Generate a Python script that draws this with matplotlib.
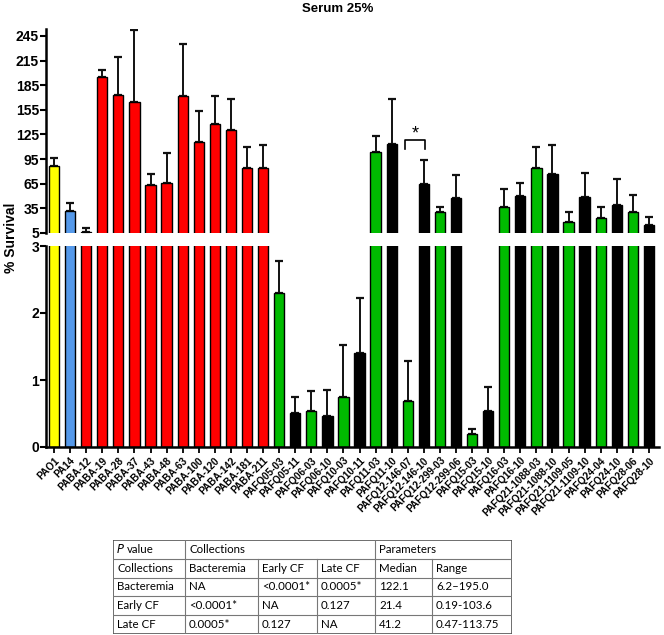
import numpy as np
import matplotlib
matplotlib.use('Agg')
import matplotlib.pyplot as plt

# strains, mean % survival and top of the error bar
strains = ['PAO1', 'PA14', 'PABA-12', 'PABA-19', 'PABA-28', 'PABA-37', 'PABA-43', 'PABA-48',
           'PABA-63', 'PABA-100', 'PABA-120', 'PABA-142', 'PABA-181', 'PABA-211',
           'PAFQ05-03', 'PAFQ05-11', 'PAFQ06-03', 'PAFQ06-10', 'PAFQ10-03', 'PAFQ10-11',
           'PAFQ11-03', 'PAFQ11-10', 'PAFQ12-146-07', 'PAFQ12-146-10', 'PAFQ12-299-03',
           'PAFQ12-299-06', 'PAFQ15-03', 'PAFQ15-10', 'PAFQ16-03', 'PAFQ16-10',
           'PAFQ21-1088-03', 'PAFQ21-1088-10', 'PAFQ21-1109-05', 'PAFQ21-1109-10',
           'PAFQ24-04', 'PAFQ24-10', 'PAFQ28-06', 'PAFQ28-10']
survival = [87, 31.4, 6.2, 195.0, 173.5, 164, 64, 65.5,
            171.5, 116, 137.4, 130.5, 84.5, 83.8,
            2.30, 0.51, 0.53, 0.47, 0.75, 1.40,
            103.6, 113.75, 0.68, 65, 31,
            47.6, 0.19, 0.54, 36.3, 50,
            83.8, 76.9, 18.8, 48.5,
            22.9, 39.5, 31, 14.7]
err_top = [96, 41, 11, 204, 219, 252, 77, 102,
           235, 153, 171.5, 168, 109.7, 111.8,
           2.77, 0.75, 0.83, 0.85, 1.52, 2.23,
           123, 168, 1.28, 94, 37,
           75.6, 0.27, 0.90, 58.6, 66.3,
           109.7, 112.6, 31, 77.7,
           37, 71, 51.7, 24.9]
group = ['ref', 'ref2'] + ['bact'] * 12 + \
        ['early', 'late', 'early', 'late', 'early', 'late', 'early', 'late',
         'early', 'late', 'early', 'late', 'early', 'late', 'early', 'late',
         'early', 'late', 'early', 'late', 'early', 'late', 'early', 'late']
group_colors = {'ref': '#ffff00', 'ref2': '#5599ea', 'bact': '#ff0000',
                'early': '#00bb00', 'late': '#000000'}

# table under the chart
tbl_header = ['Collections', 'Bacteremia', 'Early CF', 'Late CF', 'Median', 'Range']
tbl_rows = [['Bacteremia', 'NA', '<0.0001*', '0.0005*', '122.1', '6.2\u2013195.0'],
            ['Early CF', '<0.0001*', 'NA', '0.127', '21.4', '0.19-103.6'],
            ['Late CF', '0.0005*', '0.127', 'NA', '41.2', '0.47-113.75']]

plt.rcParams['font.family'] = ['Liberation Sans', 'DejaVu Sans']
plt.rcParams['font.weight'] = 'bold'

W, H = 664, 635
fig = plt.figure(figsize=(W / 100, H / 100), dpi=100)

ax_left, ax_w = 46 / W, 612.6 / W
ax_top = fig.add_axes([ax_left, 1 - 233 / H, ax_w, 203.6 / H])
ax_bot = fig.add_axes([ax_left, 1 - 447 / H, ax_w, 201 / H])

x = np.arange(len(strains))
colors = np.array([group_colors[g] for g in group])
vals = np.array(survival)
tops = np.array(err_top)

# upper panel: only the bars that reach above the break
hi = vals > 5
# lower panel: every bar, error bars only for the small ones
lo = vals <= 3
for ax, sel_bar, sel_err in ((ax_top, hi, hi), (ax_bot, np.ones_like(hi), lo)):
    ax.bar(x[sel_bar], vals[sel_bar], width=0.64, color=colors[sel_bar],
           edgecolor='black', linewidth=1.0, zorder=2)
    ax.errorbar(x[sel_err], vals[sel_err], yerr=[np.zeros(sel_err.sum()), (tops - vals)[sel_err]],
                fmt='none', ecolor='#111111', elinewidth=1.4,
                capsize=2.6, capthick=1.6, zorder=1)
    ax.set_xlim(-0.5, 37.6)
    for s in ('top', 'right'):
        ax.spines[s].set_visible(False)
    ax.spines['left'].set_linewidth(1.8)
    ax.tick_params(axis='y', length=4, width=1.5, labelsize=10, pad=1)

ax_top.set_ylim(5, 253)
ax_top.set_yticks(np.arange(5, 246, 30))
ax_top.spines['bottom'].set_visible(False)
ax_top.tick_params(axis='x', bottom=False, labelbottom=False)

ax_bot.set_ylim(0, 3)
ax_bot.set_yticks([0, 1, 2, 3])
ax_bot.spines['bottom'].set_linewidth(1.8)
ax_bot.set_xticks(x)
ax_bot.set_xticklabels(strains, rotation=45, ha='right', rotation_mode='anchor',
                       fontsize=7.2)
ax_bot.tick_params(axis='x', length=4, width=1.3, pad=2)

# significance bracket between PAFQ12-146-07 and PAFQ12-146-10
ax_top.plot([21.8, 21.8, 23.1, 23.1], [107, 118, 118, 107], color='black', lw=1.2,
            clip_on=False)
ax_top.text(22.45, 126, '*', ha='center', va='center', fontsize=13, fontweight='normal')

fig.text(338 / W, 1 - 9 / H, 'Serum 25%', ha='center', va='center', fontsize=9.5)
fig.text(11 / W, 1 - 238 / H, '% Survival', ha='center', va='center', rotation=90,
         fontsize=10)

# --- table ----------------------------------------------------------
tx0, tx1, ty0, ty1 = 113, 512, 540, 634
tab = fig.add_axes([tx0 / W, 1 - ty1 / H, (tx1 - tx0) / W, (ty1 - ty0) / H])
tab.set_xlim(0, tx1 - tx0)
tab.set_ylim(ty1 - ty0, 0)
tab.axis('off')
col_edges = [0, 72, 145, 204, 262, 319, 399]
row_h = (ty1 - ty0) / 5
lc = '#777777'
tfont = dict(family=['Lato', 'DejaVu Sans'], fontsize=8.3, fontweight='normal',
             va='center', ha='left')

tab.plot([0, 399, 399, 0, 0], [0, 0, 5 * row_h, 5 * row_h, 0], color='#555555', lw=1.2)
for r in range(1, 5):
    tab.plot([0, 399], [r * row_h, r * row_h], color=lc, lw=0.8)
for xe in col_edges[1:-1]:
    y_start = 0 if xe in (72, 262) else row_h
    tab.plot([xe, xe], [y_start, 5 * row_h], color=lc, lw=0.8)

tab.text(col_edges[0] + 4, row_h / 2, 'P', style='italic', family='DejaVu Sans',
         fontsize=8.3, fontweight='normal', va='center', ha='left')
tab.text(col_edges[0] + 14, row_h / 2, 'value', **tfont)
tab.text(col_edges[1] + 4, row_h / 2, 'Collections', **tfont)
tab.text(col_edges[4] + 4, row_h / 2, 'Parameters', **tfont)
for c, txt in enumerate(tbl_header):
    tab.text(col_edges[c] + 4, 1.5 * row_h, txt, **tfont)
for r, row in enumerate(tbl_rows):
    for c, txt in enumerate(row):
        tab.text(col_edges[c] + 4, (2.5 + r) * row_h, txt, **tfont)

plt.savefig('out.png', dpi=100)
